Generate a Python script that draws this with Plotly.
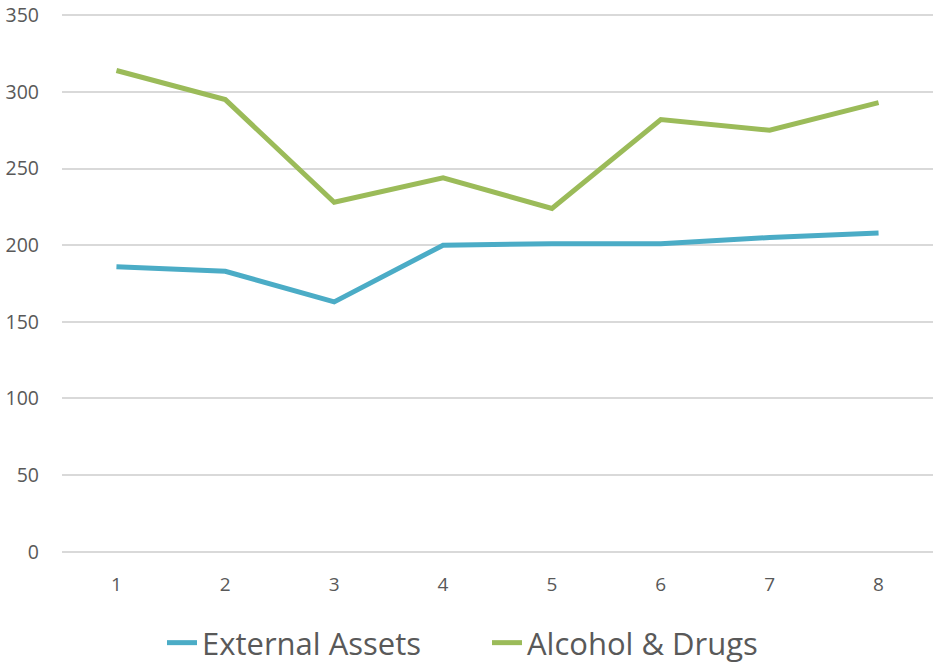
import plotly.graph_objects as go

categories = [1, 2, 3, 4, 5, 6, 7, 8]
external_assets = [186, 183, 163, 200, 201, 201, 205, 208]
alcohol_drugs = [314, 295, 228, 244, 224, 282, 275, 293]
y_ticks = [0, 50, 100, 150, 200, 250, 300, 350]

fig = go.Figure()
fig.add_trace(go.Scatter(x=categories, y=external_assets, mode="lines", name="External Assets",
                         line=dict(color="#4BACC6", width=5)))
fig.add_trace(go.Scatter(x=categories, y=alcohol_drugs, mode="lines", name="Alcohol & Drugs",
                         line=dict(color="#9BBB59", width=5)))

fig.update_layout(
    width=948, height=663,
    margin=dict(l=61.5, r=14.5, t=12.5, b=108.7),
    paper_bgcolor="white", plot_bgcolor="white",
    font=dict(family="Open Sans, Noto Sans, sans-serif", color="#595959"),
    showlegend=True,
    legend=dict(orientation="h", xref="container", yref="container",
                x=0.5137, xanchor="center", y=1 - 643 / 663, yanchor="middle",
                font=dict(size=31, color="#595959"), itemwidth=30, tracegroupgap=0,
                entrywidth=280, entrywidthmode="pixels"),
    xaxis=dict(range=[0.5, 8.5], tickvals=categories, ticktext=[str(c) for c in categories],
               showgrid=False, zeroline=False, showline=False, ticks="", automargin=False,
               ticklabeloverflow="allow",
               tickfont=dict(size=19, color="#595959"), ticklabelstandoff=17),
    yaxis=dict(range=[-1.5, 351.5], tickvals=y_ticks, showgrid=True, gridcolor="#D9D9D9", gridwidth=2,
               zeroline=False, showline=False, ticks="", automargin=False,
               ticklabeloverflow="allow",
               tickfont=dict(size=19.5, color="#595959"), ticklabelstandoff=22),
)

fig.write_html("out.html", config={"displayModeBar": False},
               post_script="document.body.style.margin='0';")
